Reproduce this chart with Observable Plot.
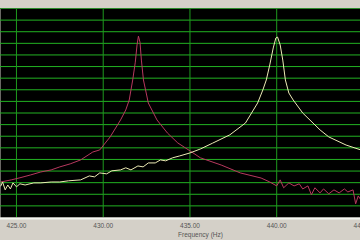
<!DOCTYPE html>
<html>
<head>
<meta charset="utf-8">
<script src="https://cdn.jsdelivr.net/npm/d3@7"></script>
<script src="https://cdn.jsdelivr.net/npm/@observablehq/plot@0.6"></script>
<style>
  html, body { margin: 0; padding: 0; background: #d4d0c8; width: 360px; height: 240px; overflow: hidden; }
  #chart svg { display: block; }
</style>
</head>
<body>
<div id="chart"></div>
<script>
// Red (magenta) resonance near 432 Hz
const redFreq = [424.1,424.7,425.2,425.8,426.4,427.0,427.5,428.1,428.7,429.4,429.8,430.4,431.0,431.3,431.5,431.7,431.85,431.95,432.03,432.12,432.2,432.32,432.6,433.1,433.7,434.3,435.0,435.6,436.8,437.9,439.1,439.6,440.0,440.2,440.4,440.7,441.0,441.3,441.5,441.8,442.0,442.2,442.5,442.7,443.0,443.3,443.6,443.9,444.1,444.4,444.55,444.7,444.85];
const redDb   = [-74.7,-73.8,-72.9,-71.7,-70.4,-69.5,-68.2,-66.9,-65.2,-61.8,-60.9,-55.3,-48.0,-43.7,-39.4,-30.8,-23.1,-15.7,-11.9,-14.5,-22.2,-30.8,-40.7,-48.0,-53.6,-57.9,-61.3,-64.3,-67.4,-70.8,-73.0,-74.7,-76.4,-73.8,-77.2,-75.1,-76.4,-75.5,-77.7,-76.4,-80.2,-77.2,-79.4,-77.7,-79.8,-78.1,-79.4,-77.7,-79.0,-78.1,-84.1,-80.7,-82.4];

// Yellow (cream) resonance near 440 Hz
const yelFreq = [424.1,424.2,424.35,424.5,424.65,424.8,425.0,425.2,425.5,426.0,426.4,427.0,427.5,428.0,428.7,429.2,429.5,429.8,430.2,430.5,431.0,431.3,431.6,432.0,432.3,432.6,433.0,433.3,433.6,434.0,434.4,435.0,435.6,436.3,437.3,438.2,438.9,439.2,439.4,439.6,439.8,439.95,440.05,440.2,440.35,440.5,440.7,440.95,441.5,442.5,443.0,444.0,444.85];
const yelDb   = [-76.4,-74.7,-78.1,-76.0,-77.7,-75.1,-76.8,-75.5,-76.0,-75.1,-75.1,-74.7,-74.7,-74.2,-73.8,-72.1,-72.5,-70.8,-71.2,-69.9,-69.5,-68.6,-69.5,-67.8,-68.2,-66.5,-66.5,-65.2,-65.6,-64.3,-63.5,-62.2,-60.5,-58.0,-54.4,-49.3,-40.7,-35.1,-30.8,-24.3,-17.0,-12.7,-12.3,-15.7,-22.2,-30.8,-36.4,-39.4,-45.0,-52.3,-55.3,-58.8,-60.9];

const xTicks = [425, 430, 435, 440, 445];
const yGrid = d3.range(-85, 0, 5);
const xLabel = "Frequency (Hz)";

const red = redFreq.map((f, i) => ({f, v: redDb[i]}));
const yel = yelFreq.map((f, i) => ({f, v: yelDb[i]}));

const chart = Plot.plot({
  width: 360,
  height: 240,
  marginTop: 8,
  marginBottom: 23,
  marginLeft: 0,
  marginRight: 0,
  style: { background: "#d4d0c8", fontFamily: "Liberation Sans, Arial, sans-serif", fontSize: "7px", color: "#555" },
  x: { domain: [424.08, 444.83], axis: null },
  y: { domain: [-90, 0], axis: null },
  marks: [
    Plot.frame({ fill: "#000", stroke: null }),
    Plot.ruleY(yGrid, { stroke: "#22b222", strokeWidth: 1 }),
    Plot.ruleX(xTicks.slice(0, 4), { stroke: "#1e9a1e", strokeWidth: 1 }),
    Plot.frame({ anchor: "top", stroke: "#2a8a2a" }),
    Plot.frame({ anchor: "bottom", stroke: "#f4f4f0", strokeWidth: 2, dy: 1 }),
    Plot.line(red, { x: "f", y: "v", stroke: "#b8385e", strokeWidth: 1 }),
    Plot.line(yel, { x: "f", y: "v", stroke: "#ecebb4", strokeWidth: 1 }),
    Plot.axisX(xTicks, { tickSize: 0, tickPadding: 6, tickFormat: d => d.toFixed(2), label: null, fill: "#555", fontSize: 6.5 }),
    Plot.text([xLabel], { frameAnchor: "bottom", dx: 20, dy: 19.5, fill: "#555", fontSize: 6.5 })
  ]
});
document.getElementById("chart").appendChild(chart);
</script>
</body>
</html>
